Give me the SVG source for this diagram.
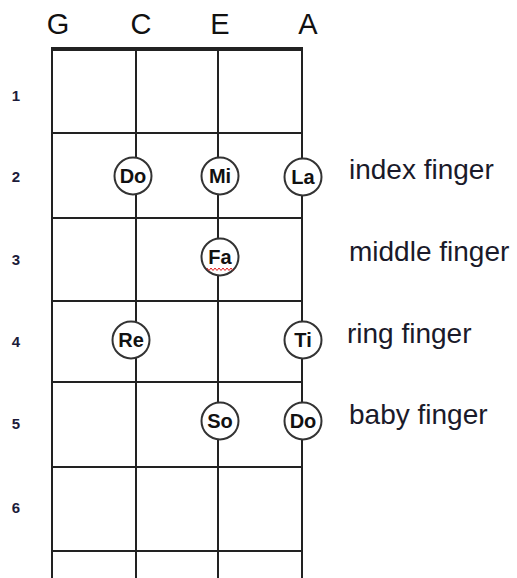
<svg xmlns="http://www.w3.org/2000/svg" width="517" height="578" viewBox="0 0 517 578">
<style>
.grid line{stroke:#222;stroke-width:2}
.hdr{font-family:"Liberation Sans",Arial,sans-serif;font-size:29px;fill:#111;text-anchor:middle}
.num{font-family:"Liberation Sans",Arial,sans-serif;font-size:15px;font-weight:bold;fill:#1c1c3a;text-anchor:middle}
.lbl{font-family:"Liberation Sans",Arial,sans-serif;font-size:28px;fill:#1a1a2a}
.note circle{fill:#fff;stroke:#333;stroke-width:2}
.note text{font-family:"Liberation Sans",Arial,sans-serif;font-size:20px;font-weight:bold;fill:#111;text-anchor:middle}
</style>
<rect width="517" height="578" fill="#fff"/>
<g id="headers">
<text class="hdr" x="58" y="34">G</text>
<text class="hdr" x="141" y="34">C</text>
<text class="hdr" x="220" y="34">E</text>
<text class="hdr" x="308" y="34">A</text>
</g>
<g id="fret-numbers">
<text class="num" x="16" y="101">1</text>
<text class="num" x="16" y="182">2</text>
<text class="num" x="16" y="265">3</text>
<text class="num" x="16" y="347">4</text>
<text class="num" x="16" y="429">5</text>
<text class="num" x="16" y="513">6</text>
</g>
<g id="connectors" class="grid">
<line x1="52" y1="49" x2="52" y2="578"/>
<line x1="136" y1="49" x2="136" y2="578"/>
<line x1="218" y1="49" x2="218" y2="578"/>
<line x1="302" y1="49" x2="302" y2="578"/>
<line x1="51" y1="49" x2="303" y2="49" style="stroke-width:4"/>
<line x1="52" y1="133" x2="302" y2="133"/>
<line x1="52" y1="218" x2="302" y2="218"/>
<line x1="52" y1="301" x2="302" y2="301"/>
<line x1="52" y1="382" x2="302" y2="382"/>
<line x1="52" y1="467" x2="302" y2="467"/>
<line x1="52" y1="551" x2="302" y2="551"/>
</g>
<g id="note-do" class="note"><circle cx="133" cy="176" r="18.5"/><text x="133" y="183">Do</text></g>
<g id="note-mi" class="note"><circle cx="220" cy="176" r="18.5"/><text x="220" y="183">Mi</text></g>
<g id="note-la" class="note"><circle cx="303" cy="177" r="18.5"/><text x="303" y="184">La</text></g>
<g id="note-fa" class="note"><circle cx="220" cy="257" r="18.5"/><text x="220" y="264">Fa</text>
<polyline points="207,268 209,270.5 211,268 213,270.5 215,268 217,270.5 219,268 221,270.5 223,268 225,270.5 227,268 229,270.5 231,268 233,270.5" fill="none" stroke="#e02020" stroke-width="1"/></g>
<g id="note-re" class="note"><circle cx="131" cy="340" r="18.5"/><text x="131" y="347">Re</text></g>
<g id="note-ti" class="note"><circle cx="303" cy="340" r="18.5"/><text x="303" y="347">Ti</text></g>
<g id="note-so" class="note"><circle cx="220" cy="421" r="18.5"/><text x="220" y="428">So</text></g>
<g id="note-do2" class="note"><circle cx="303" cy="421" r="18.5"/><text x="303" y="428">Do</text></g>
<g id="labels">
<text class="lbl" x="349" y="179">index finger</text>
<text class="lbl" x="349" y="261">middle finger</text>
<text class="lbl" x="347" y="343">ring finger</text>
<text class="lbl" x="349" y="424">baby finger</text>
</g>
</svg>
